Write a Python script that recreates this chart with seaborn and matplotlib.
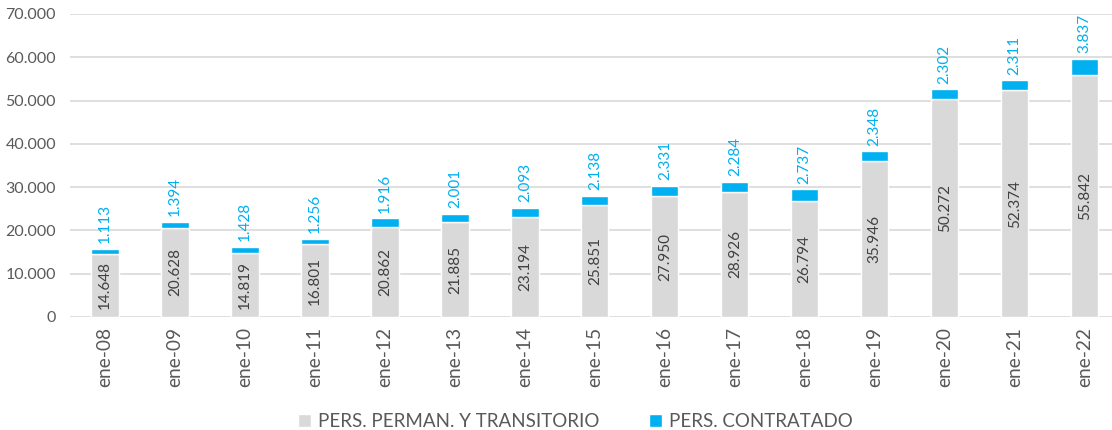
import pandas as pd
import matplotlib.pyplot as plt
import seaborn as sns

# datos
fechas = ['ene-08', 'ene-09', 'ene-10', 'ene-11', 'ene-12', 'ene-13', 'ene-14', 'ene-15',
          'ene-16', 'ene-17', 'ene-18', 'ene-19', 'ene-20', 'ene-21', 'ene-22']
perman = [14648, 20628, 14819, 16801, 20862, 21885, 23194, 25851,
          27950, 28926, 26794, 35946, 50272, 52374, 55842]
contratado = [1113, 1394, 1428, 1256, 1916, 2001, 2093, 2138,
              2331, 2284, 2737, 2348, 2302, 2311, 3837]

df = pd.DataFrame({'fecha': fechas, 'perman': perman, 'contr': contratado})

sns.set_style('white')
plt.rcParams['font.family'] = ['Lato', 'DejaVu Sans']

gris = '#D9D9D9'
azul = '#00B0F0'
texto = '#595959'

fig = plt.figure(figsize=(11.12, 4.3), dpi=100)
ax = fig.add_axes([70/1112, 1-317/430, 1-70/1112, (317-14)/430])

sns.barplot(data=df, x='fecha', y='perman', color=gris, width=0.39, ax=ax,
            saturation=1, label='PERS. PERMAN. Y TRANSITORIO', zorder=3)
sns.barplot(data=df, x='fecha', y='contr', bottom=df['perman'], color=azul, width=0.39,
            ax=ax, saturation=1, label='PERS. CONTRATADO', zorder=3)

fmt = lambda v: f'{v:,}'.replace(',', '.')

for i, (p, c) in enumerate(zip(perman, contratado)):
    ax.text(i, p/2, fmt(p), rotation=90, ha='center', va='center', fontsize=11, color='#404040', zorder=4)
    ax.annotate(fmt(c), (i, p + c), xytext=(0, 4), textcoords='offset points', rotation=90,
                ha='center', va='bottom', fontsize=11, color=azul, zorder=4)

ax.set_ylim(0, 70000)
ax.set_xlim(-0.5, 14.39)
ax.set_yticks(range(0, 70001, 10000))
ax.set_yticklabels([fmt(v) for v in range(0, 70001, 10000)], fontsize=11.5, color=texto)
ax.tick_params(axis='x', labelrotation=90, labelsize=13.8, labelcolor=texto, length=0, pad=7)
ax.tick_params(axis='y', length=0, pad=10)
ax.yaxis.grid(True, color=gris, linewidth=1.2, zorder=0)
ax.set_axisbelow(True)
ax.set_xlabel('')
ax.set_ylabel('')
sns.despine(ax=ax, left=True, bottom=True)

ax.legend(loc='center', bbox_to_anchor=(0.485, -0.345), ncol=2, frameon=False, fontsize=13.5,
          labelcolor=texto, handlelength=0.7, handleheight=0.7, columnspacing=2.6, handletextpad=0.4)

plt.savefig('out.png', dpi=100)
